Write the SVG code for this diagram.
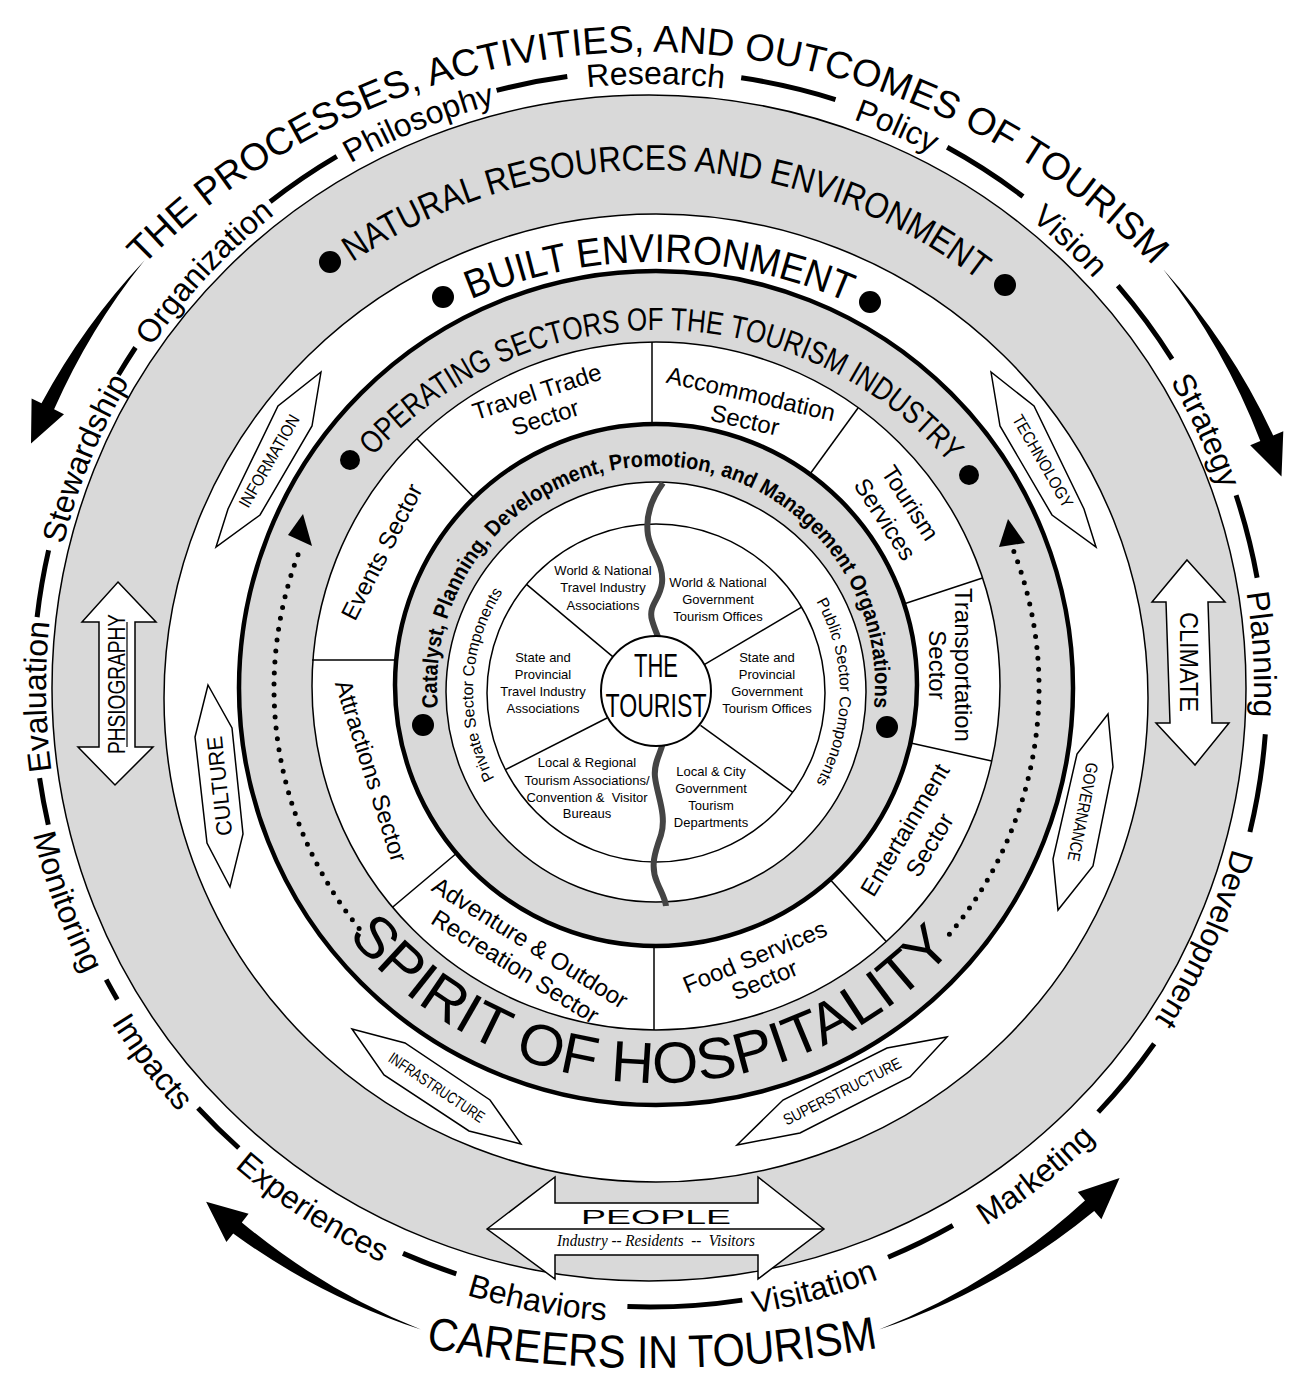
<svg xmlns="http://www.w3.org/2000/svg" width="1294" height="1381" viewBox="0 0 1294 1381">
<defs>
<style>
text{font-family:"Liberation Sans",Arial,Helvetica,sans-serif;fill:#000}
.g{fill:#d9d9d9;stroke:#000}
.wh{fill:#fff;stroke:#000}
.wd{font-size:32px}
.dash{fill:none;stroke:#000;stroke-width:5}
.sec{font-size:24px;text-anchor:middle}
.pie{font-size:13px;text-anchor:middle;white-space:pre}
.box{fill:#fff;stroke:#000;stroke-width:1.5;stroke-linejoin:miter}
.bl{text-anchor:middle}
.dot{fill:#000}
.dots{fill:none;stroke:#000;stroke-width:5;stroke-linecap:round;stroke-dasharray:0 11}
.div{stroke:#000;stroke-width:1.5}
</style>
<path id="pTitle" d="M 72.1 351.8 A 703 703 0 0 1 1223.9 351.8"/>
<path id="pCareers" d="M 300 1318.6 A 1278 1278 0 0 0 1004 1318.6"/>
<path id="pCw" d="M 82.4 894.6 A 604 604 0 1 1 1112.7 1076.2"/>
<path id="pCcw" d="M 25.6 798.1 A 634 634 0 0 0 1199.1 1005"/>
<path id="pNat" d="M 196.8 424.7 A 536 536 0 0 1 1124.7 451.4"/>
<path id="pBuilt" d="M 245.4 497.1 A 476 476 0 0 1 1069.9 502.9"/>
<path id="pOper" d="M 326.8 518.7 A 385 385 0 0 1 993.6 526.3"/>
<path id="pCat" d="M 466.3 794.5 A 219 219 0 1 1 845.7 794.5"/>
<path id="pSpirit" d="M 310 878.6 A 395 395 0 0 0 994 892.3"/>
<path id="pPriv" d="M 515.8 809.6 A 183 183 0 0 1 526.6 562.6"/>
<path id="pPub" d="M 786.1 561.9 A 184 184 0 0 1 786.1 822.1"/>
</defs>
<rect width="1294" height="1381" fill="#fff"/>

<g id="rings">
<ellipse cx="649" cy="688" rx="597" ry="593" class="g" stroke-width="1.5"/>
<ellipse cx="656" cy="698" rx="492" ry="484" class="wh" stroke-width="1.5"/>
<circle cx="656" cy="688" r="417" class="g" stroke-width="4.5"/>
<circle cx="656" cy="686" r="344" class="wh" stroke-width="1.5"/>
<circle cx="656" cy="685" r="261" class="g" stroke-width="4.5"/>
<circle cx="656" cy="692" r="210" class="wh" stroke-width="1.5"/>
<circle cx="656" cy="693" r="169" class="wh" stroke-width="1.5"/>
</g>

<g id="connectors">
<g id="sector-dividers">
<line class="div" x1="652" y1="342" x2="652" y2="425"/>
<line class="div" x1="474.6" y1="498.3" x2="416.9" y2="438.7"/>
<line class="div" x1="312" y1="660" x2="395" y2="660"/>
<line class="div" x1="456" y1="853.8" x2="392.5" y2="907.2"/>
<line class="div" x1="654" y1="945" x2="654" y2="1030"/>
<line class="div" x1="830.6" y1="879.9" x2="886.2" y2="941.6"/>
<line class="div" x1="910.7" y1="742.9" x2="991.7" y2="761"/>
<line class="div" x1="903.7" y1="604" x2="982.5" y2="578"/>
<line class="div" x1="809.5" y1="474.8" x2="858.2" y2="407.7"/>
</g>
<g id="pie-dividers">
<line class="div" x1="613.9" y1="657.6" x2="526.5" y2="584.4"/>
<line class="div" x1="607" y1="718" x2="505.4" y2="769.7"/>
<line class="div" x1="703.4" y1="665.1" x2="801.6" y2="607.2"/>
<line class="div" x1="700.5" y1="725.3" x2="792.7" y2="792.3"/>
</g>
<path id="divide-line" d="M 663 483 C 652 498 645 515 648 535 C 651 553 664 563 662 583 C 660 600 648 605 652 620 C 656 635 664 645 664 665 L 664 735 C 664 750 653 760 655 777 C 657 795 667 815 661 835 C 655 852 650 866 657 882 C 661 892 665 898 666 906" fill="none" stroke="#444" stroke-width="6"/>
<g id="word-dashes">
<path class="dash" d="M 37.1 617.1 A 617 617 0 0 1 48.6 550.3"/>
<path class="dash" d="M 118.4 374.8 A 617 617 0 0 1 135.5 347.5"/>
<path class="dash" d="M 270.1 201.8 A 617 617 0 0 1 336.8 156.4"/>
<path class="dash" d="M 496.6 90.4 A 617 617 0 0 1 567.3 76.6"/>
<path class="dash" d="M 741.2 77.8 A 617 617 0 0 1 835.5 99.6"/>
<path class="dash" d="M 947.2 147.3 A 617 617 0 0 1 1023 196.5"/>
<path class="dash" d="M 1117.8 285.7 A 617 617 0 0 1 1172.1 359.2"/>
<path class="dash" d="M 1236.1 495.3 A 617 617 0 0 1 1257.1 577.7"/>
<path class="dash" d="M 1265.3 734.3 A 617 617 0 0 1 1249.9 832"/>
<path class="dash" d="M 1154.2 1043.7 A 617 617 0 0 1 1098.2 1112.1"/>
<path class="dash" d="M 952.9 1225.5 A 617 617 0 0 1 888.1 1257.2"/>
<path class="dash" d="M 742.3 1300.1 A 617 617 0 0 1 627.4 1306.6"/>
<path class="dash" d="M 456.3 1273.8 A 617 617 0 0 1 403 1253.4"/>
<path class="dash" d="M 238.8 1148 A 617 617 0 0 1 198 1108"/>
<path class="dash" d="M 117.3 999.4 A 617 617 0 0 1 106.2 979.6"/>
<path class="dash" d="M 48.3 824.7 A 617 617 0 0 1 39.6 778.1"/>
</g>
<g id="cycle-arrows">
<path d="M 144.4 260.4 A 670 670 0 0 0 41.5 403.2 L 31.6 398.4 L 31 443.6 L 64 414.2 L 54.1 409.3 A 670 670 0 0 1 144.4 260.4 Z"/>
<path d="M 1163.2 269.3 A 670 670 0 0 1 1273.2 435.5 L 1283.3 431.2 L 1281.5 476.4 L 1250.2 445.3 L 1260.3 441 A 670 670 0 0 0 1163.2 269.3 Z"/>
<path d="M 420.9 1329.6 A 670 670 0 0 1 233.2 1233.5 L 226.4 1242.1 L 206.1 1201.8 L 248.6 1213.8 L 241.8 1222.4 A 670 670 0 0 0 420.9 1329.6 Z"/>
<path d="M 879.1 1329.6 A 670 670 0 0 0 1094.2 1210.9 L 1101.4 1219.2 L 1119.6 1177.9 L 1077.8 1192.1 L 1085 1200.4 A 670 670 0 0 1 879.1 1329.6 Z"/>
</g>
<g id="hospitality-arrows">
<path class="dots" d="M 359.1 928.4 A 382 382 0 0 1 300.6 548"/>
<polygon points="303,514 288,535 312,546"/>
<path class="dots" d="M 949.4 934.2 A 383 383 0 0 0 1013.6 550.7"/>
<polygon points="1008,519 999,547 1025,543"/>
</g>
</g>

<g id="tourist">
<circle cx="656" cy="691" r="55" fill="#fff" stroke="#000" stroke-width="2"/>
<text x="656" y="677" font-size="34" text-anchor="middle" textLength="44" lengthAdjust="spacingAndGlyphs">THE</text>
<text x="656" y="717" font-size="34" text-anchor="middle" textLength="101" lengthAdjust="spacingAndGlyphs">TOURIST</text>
</g>

<g id="pie-labels">
<text class="pie"><tspan x="603" y="575">World &amp; National</tspan><tspan x="603" y="592">Travel Industry</tspan><tspan x="603" y="610">Associations</tspan></text>
<text class="pie"><tspan x="718" y="587">World &amp; National</tspan><tspan x="718" y="604">Government</tspan><tspan x="718" y="621">Tourism Offices</tspan></text>
<text class="pie"><tspan x="543" y="662">State and</tspan><tspan x="543" y="679">Provincial</tspan><tspan x="543" y="696">Travel Industry</tspan><tspan x="543" y="713">Associations</tspan></text>
<text class="pie"><tspan x="767" y="662">State and</tspan><tspan x="767" y="679">Provincial</tspan><tspan x="767" y="696">Government</tspan><tspan x="767" y="713">Tourism Offices</tspan></text>
<text class="pie"><tspan x="587" y="767">Local &amp; Regional</tspan><tspan x="587" y="785">Tourism Associations/</tspan><tspan x="587" y="802">Convention &amp;  Visitor</tspan><tspan x="587" y="818">Bureaus</tspan></text>
<text class="pie"><tspan x="711" y="776">Local &amp; City</tspan><tspan x="711" y="793">Government</tspan><tspan x="711" y="810">Tourism</tspan><tspan x="711" y="827">Departments</tspan></text>
</g>

<g id="component-labels">
<text font-size="16" text-anchor="middle"><textPath href="#pPriv" startOffset="50%">Private Sector Components</textPath></text>
<text font-size="16" text-anchor="middle"><textPath href="#pPub" startOffset="50%">Public Sector Components</textPath></text>
</g>

<g id="catalyst">
<text font-size="22" font-weight="bold" text-anchor="middle"><textPath href="#pCat" startOffset="50%" textLength="733" lengthAdjust="spacingAndGlyphs">Catalyst, Planning, Development, Promotion, and Management Organizations</textPath></text>
<circle class="dot" cx="423" cy="725" r="11"/>
<circle class="dot" cx="887" cy="727" r="11"/>
</g>

<g id="sectors">
<text class="sec" transform="translate(537,392) rotate(-18)"><tspan x="0" y="8">Travel Trade</tspan><tspan x="0" y="35">Sector</tspan></text>
<text class="sec" transform="translate(751,394) rotate(13)"><tspan x="0" y="8">Accommodation</tspan><tspan x="0" y="35">Sector</tspan></text>
<text class="sec" transform="translate(910,503) rotate(57)"><tspan x="0" y="8">Tourism</tspan><tspan x="0" y="38">Services</tspan></text>
<text class="sec" transform="translate(963,665) rotate(90)"><tspan x="0" y="8">Transportation</tspan><tspan x="0" y="34">Sector</tspan></text>
<text class="sec" transform="translate(905,830) rotate(-59)"><tspan x="0" y="8">Entertainment</tspan><tspan x="0" y="37">Sector</tspan></text>
<text class="sec" transform="translate(755,957) rotate(-22.6)"><tspan x="0" y="8">Food Services</tspan><tspan x="0" y="33">Sector</tspan></text>
<text class="sec" transform="translate(530,943) rotate(32)"><tspan x="0" y="8">Adventure &amp; Outdoor</tspan><tspan x="0" y="36">Recreation Sector</tspan></text>
<text class="sec" transform="translate(371,771) rotate(72.4)"><tspan x="0" y="8">Attractions Sector</tspan></text>
<text class="sec" transform="translate(382,552) rotate(-62.8)"><tspan x="0" y="8">Events Sector</tspan></text>
</g>

<g id="operating">
<text font-size="32" text-anchor="middle"><textPath href="#pOper" startOffset="50%" textLength="651" lengthAdjust="spacingAndGlyphs">OPERATING SECTORS OF THE TOURISM INDUSTRY</textPath></text>
<circle class="dot" cx="350" cy="460" r="10"/>
<circle class="dot" cx="969" cy="475" r="10"/>
</g>

<g id="spirit">
<text font-size="58" text-anchor="middle"><textPath href="#pSpirit" startOffset="50%" textLength="690" lengthAdjust="spacingAndGlyphs">SPIRIT OF HOSPITALITY</textPath></text>
</g>

<g id="built">
<text font-size="40" text-anchor="middle"><textPath href="#pBuilt" startOffset="50%" textLength="387" lengthAdjust="spacingAndGlyphs">BUILT ENVIRONMENT</textPath></text>
<circle class="dot" cx="443" cy="297" r="11"/>
<circle class="dot" cx="870" cy="302" r="11"/>
</g>

<g id="natural">
<text font-size="36" text-anchor="middle"><textPath href="#pNat" startOffset="50%" textLength="669" lengthAdjust="spacingAndGlyphs">NATURAL RESOURCES AND ENVIRONMENT</textPath></text>
<circle class="dot" cx="330" cy="262" r="11"/>
<circle class="dot" cx="1005" cy="285" r="11"/>
</g>

<g id="information">
<polygon class="box" points="321,372 312,426 260,515 216,547 228,509 278,406"/>
<text class="bl" font-size="17" transform="translate(269,461) rotate(-60)" x="0" y="6" textLength="104" lengthAdjust="spacingAndGlyphs">INFORMATION</text>
</g>
<g id="technology">
<polygon class="box" points="991,372 1000,426 1052,515 1096,547 1084,509 1034,406"/>
<text class="bl" font-size="17" transform="translate(1043,461) rotate(60)" x="0" y="6" textLength="104" lengthAdjust="spacingAndGlyphs">TECHNOLOGY</text>
</g>
<g id="culture">
<polygon class="box" points="208,685 232,728 243,834 230,887 207,843 195,737"/>
<text class="bl" font-size="22" transform="translate(219,786) rotate(-96)" x="0" y="8" textLength="100" lengthAdjust="spacingAndGlyphs">CULTURE</text>
</g>
<g id="governance">
<polygon class="box" points="1108,714 1113,767 1093,866 1058,910 1053,859 1077,754"/>
<text class="bl" font-size="17" transform="translate(1083,812) rotate(101)" x="0" y="6" textLength="100" lengthAdjust="spacingAndGlyphs">GOVERNANCE</text>
</g>
<g id="infrastructure">
<polygon class="box" points="352,1029 405,1043 490,1100 521,1144 469,1131 384,1075"/>
<text class="bl" font-size="16" transform="translate(437,1087) rotate(34)" x="0" y="6" textLength="112" lengthAdjust="spacingAndGlyphs">INFRASTRUCTURE</text>
</g>
<g id="superstructure">
<polygon class="box" points="947,1037 910,1077 800,1133 737,1145 783,1100 887,1048"/>
<text class="bl" font-size="16" transform="translate(842,1091) rotate(-27)" x="0" y="6" textLength="130" lengthAdjust="spacingAndGlyphs">SUPERSTRUCTURE</text>
</g>
<g id="physiography">
<polygon class="box" points="118,582 156,622 135,622 135,747 153,747 115,785 78,747 99,747 99,622 82,622"/>
<line x1="127" y1="622" x2="127" y2="747" stroke="#000" stroke-width="1.2"/>
<text class="bl" font-size="24" transform="translate(117,684) rotate(-90)" x="0" y="8" textLength="140" lengthAdjust="spacingAndGlyphs">PHSIOGRAPHY</text>
</g>
<g id="climate">
<polygon class="box" points="1187,560 1225,602 1208,602 1212,723 1229,723 1195,765 1156,723 1170,723 1166,602 1152,602"/>
<text class="bl" font-size="26" transform="translate(1189,662) rotate(90)" x="0" y="9" textLength="100" lengthAdjust="spacingAndGlyphs">CLIMATE</text>
</g>
<g id="people">
<polygon class="box" points="487,1229 555,1177 555,1203 758,1203 758,1177 824,1229 758,1279 758,1255 555,1255 555,1279"/>
<line x1="487" y1="1229" x2="824" y2="1229" stroke="#000" stroke-width="1.5"/>
<text x="656" y="1224" font-size="21" text-anchor="middle" textLength="150" lengthAdjust="spacingAndGlyphs">PEOPLE</text>
<text x="656" y="1246" font-size="16" font-style="italic" text-anchor="middle" style="font-family:'Liberation Serif','Times New Roman',serif;white-space:pre" textLength="198" lengthAdjust="spacingAndGlyphs">Industry -- Residents  --  Visitors</text>
</g>

<g id="title">
<text font-size="38" text-anchor="middle"><textPath href="#pTitle" startOffset="50%">THE PROCESSES, ACTIVITIES, AND OUTCOMES OF TOURISM</textPath></text>
</g>
<g id="careers">
<text font-size="46" text-anchor="middle"><textPath href="#pCareers" startOffset="50%" textLength="455" lengthAdjust="spacingAndGlyphs">CAREERS IN TOURISM</textPath></text>
</g>

<g id="words">
<text class="wd" text-anchor="middle"><textPath href="#pCw" startOffset="202.4">Evaluation</textPath></text>
<text class="wd" text-anchor="middle"><textPath href="#pCw" startOffset="443.8">Stewardship</textPath></text>
<text class="wd" text-anchor="middle"><textPath href="#pCw" startOffset="664.1">Organization</textPath></text>
<text class="wd" text-anchor="middle"><textPath href="#pCw" startOffset="924.5">Philosophy</textPath></text>
<text class="wd" text-anchor="middle"><textPath href="#pCw" startOffset="1164.9">Research</textPath></text>
<text class="wd" text-anchor="middle"><textPath href="#pCw" startOffset="1409.5">Policy</textPath></text>
<text class="wd" text-anchor="middle"><textPath href="#pCw" startOffset="1615">Vision</textPath></text>
<text class="wd" text-anchor="middle"><textPath href="#pCw" startOffset="1845.9">Strategy</textPath></text>
<text class="wd" text-anchor="middle"><textPath href="#pCw" startOffset="2074.6">Planning</textPath></text>
<text class="wd" text-anchor="middle"><textPath href="#pCw" startOffset="2364.6">Development</textPath></text>
<text class="wd" text-anchor="middle"><textPath href="#pCcw" startOffset="111.8">Monitoring</textPath></text>
<text class="wd" text-anchor="middle"><textPath href="#pCcw" startOffset="297.7">Impacts</textPath></text>
<text class="wd" text-anchor="middle"><textPath href="#pCcw" startOffset="520.1">Experiences</textPath></text>
<text class="wd" text-anchor="middle"><textPath href="#pCcw" startOffset="770.1">Behaviors</textPath></text>
<text class="wd" text-anchor="middle"><textPath href="#pCcw" startOffset="1054.5">Visitation</textPath></text>
<text class="wd" text-anchor="middle"><textPath href="#pCcw" startOffset="1309">Marketing</textPath></text>
</g>
</svg>
